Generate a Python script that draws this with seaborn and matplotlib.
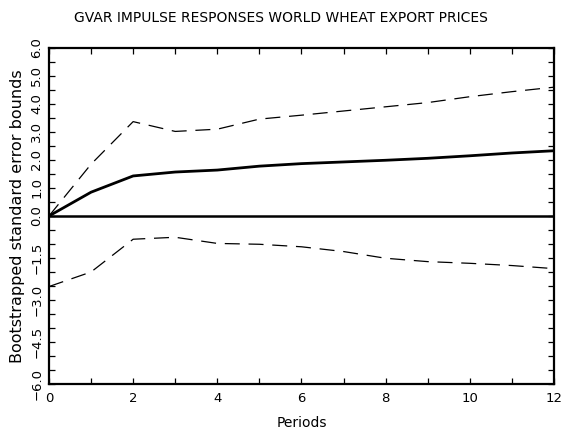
import numpy as np
import pandas as pd
import matplotlib
matplotlib.use("Agg")
import matplotlib.pyplot as plt
import seaborn as sns

# Impulse responses of world wheat export prices, with bootstrap bounds
periods = [0, 1, 2, 3, 4, 5, 6, 7, 8, 9, 10, 11, 12]
response = [0.00, 0.85, 1.43, 1.57, 1.64, 1.78, 1.87, 1.93, 1.99, 2.06, 2.15, 2.25, 2.33]
upper_bound = [0.00, 1.85, 3.37, 3.02, 3.10, 3.46, 3.60, 3.75, 3.90, 4.05, 4.26, 4.44, 4.60]
lower_bound = [-2.52, -2.00, -0.83, -0.76, -0.98, -1.01, -1.10, -1.27, -1.51, -1.63, -1.69, -1.77, -1.88]

y_major = [-6.0, -4.5, -3.0, -1.5, 0.0, 1.0, 2.0, 3.0, 4.0, 5.0, 6.0]
y_major_labels = ["\u22126.0", "\u22124.5", "\u22123.0", "\u22121.5", "0.0",
                  "1.0", "2.0", "3.0", "4.0", "5.0", "6.0"]
x_major = [0, 2, 4, 6, 8, 10, 12]

sns.set_theme(style="ticks")
plt.rcParams["font.family"] = ["DejaVu Sans"]
plt.rcParams["text.color"] = "black"
plt.rcParams["axes.labelcolor"] = "black"

df = pd.DataFrame({
    "Periods": periods * 3,
    "value": response + upper_bound + lower_bound,
    "series": ["response"] * 13 + ["upper"] * 13 + ["lower"] * 13,
})

fig = plt.figure(figsize=(5.61, 4.37), dpi=100)
ax = fig.add_axes([0.0873, 0.1213, 0.9002, 0.7689])

ax.axhline(0.0, color="black", lw=1.8, zorder=2)
sns.lineplot(data=df[df.series == "response"], x="Periods", y="value",
             color="black", lw=2.0, ax=ax, legend=False, zorder=3)
for name in ("upper", "lower"):
    sns.lineplot(data=df[df.series == name], x="Periods", y="value",
                 color="black", lw=0.9, ax=ax, legend=False,
                 dashes=False, zorder=3).lines[-1].set_dashes([12, 7])

ax.set_xlim(0, 12)
ax.set_ylim(-6, 6)

ax.set_xticks(x_major)
ax.set_xticklabels([str(v) for v in x_major])
ax.set_xticks(np.arange(0, 13, 1), minor=True)
ax.set_yticks(y_major)
ax.set_yticklabels(y_major_labels, rotation=90, va="center")
ax.set_yticks(np.arange(-6, 6.01, 0.5), minor=True)

ax.tick_params(which="both", direction="in", top=True, right=True,
               length=4, width=0.9, color="black", labelsize=9.5,
               labelcolor="black")
ax.tick_params(axis="x", pad=6)
ax.tick_params(axis="y", pad=4)

for sp in ax.spines.values():
    sp.set_linewidth(1.6)
    sp.set_color("black")

ax.set_xlabel("Periods", fontsize=10, labelpad=8)
ax.set_ylabel("Bootstrapped standard error bounds", fontsize=11.5, labelpad=4)
fig.text(0.5, 0.958, "GVAR IMPULSE RESPONSES WORLD WHEAT EXPORT PRICES",
         ha="center", va="center", fontsize=10)

fig.savefig("out.png", dpi=100)
